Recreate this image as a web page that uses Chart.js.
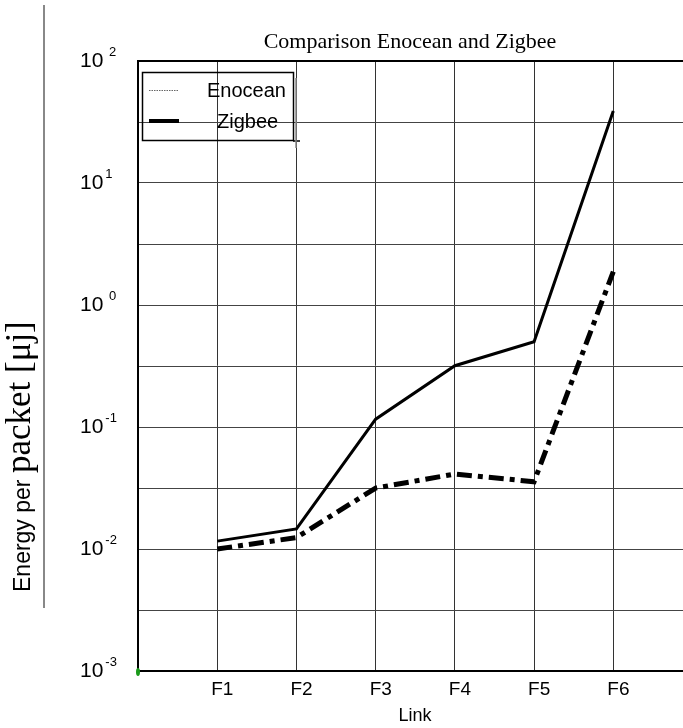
<!DOCTYPE html>
<html>
<head>
<meta charset="utf-8">
<script src="https://cdn.jsdelivr.net/npm/chart.js@4.4.1/dist/chart.umd.min.js"></script>
<style>
html,body{margin:0;padding:0;background:#fff;overflow:hidden;}
#wrap{width:683px;height:728px;}
</style>
</head>
<body>
<div id="wrap"><canvas id="c" width="683" height="728"></canvas></div>
<script>
// ---- data ----
const categories = ['F1', 'F2', 'F3', 'F4', 'F5', 'F6'];
const enoceanValues = [0.0116, 0.0146, 0.116, 0.318, 0.50, 39];
const zigbeeValues = [0.0100, 0.0124, 0.0316, 0.0412, 0.0356, 1.88];
const seriesNames = ['Enocean', 'Zigbee'];
const yTickValues = [0.001, 0.01, 0.1, 1, 10, 100];
const yTickBase = ['10', '10', '10', '10', '10', '10'];
const yTickExponents = ['-3', '-2', '-1', ' 0', '1', ' 2'];
const yGridValues = [0.001, 0.00316, 0.01, 0.0316, 0.1, 0.316, 1, 3.16, 10, 31.6, 100];
const chartTitle = 'Comparison Enocean and Zigbee';
const xTitle = 'Link';
const yTitleA = 'Energy per ';
const yTitleB = 'packet [\u03bcj]';

const toPoints = arr => arr.map((v, i) => ({ x: i + 1, y: v }));

const decor = {
  id: 'decor',
  afterDraw(chart) {
    const ctx = chart.ctx;
    const xs = chart.scales.x, ys = chart.scales.y;
    const area = chart.chartArea;
    ctx.save();
    // top border line
    ctx.strokeStyle = '#000'; ctx.lineWidth = 2;
    ctx.beginPath(); ctx.moveTo(area.left, area.top); ctx.lineTo(area.right, area.top); ctx.stroke();
    // title
    ctx.fillStyle = '#000';
    ctx.font = '22px "Liberation Serif", "Times New Roman", serif';
    ctx.textAlign = 'center'; ctx.textBaseline = 'alphabetic';
    ctx.fillText(chartTitle, 410, 48);
    // y tick labels
    yTickValues.forEach((v, i) => {
      const y = ys.getPixelForValue(v);
      ctx.font = '21px "Liberation Sans", Arial, sans-serif';
      ctx.textAlign = 'left'; ctx.textBaseline = 'alphabetic';
      const bx = 80;
      ctx.fillText(yTickBase[i], bx, y + 6);
      const w = ctx.measureText(yTickBase[i]).width;
      ctx.font = '13px "Liberation Sans", Arial, sans-serif';
      ctx.fillText(yTickExponents[i], bx + w + 2, y - 5);
    });
    // x tick labels
    ctx.font = '19px "Liberation Sans", Arial, sans-serif';
    ctx.textAlign = 'left';
    categories.forEach((c, i) => {
      const x = xs.getPixelForValue(i + 1);
      ctx.fillText(c, x - 6, 695);
    });
    // x title
    ctx.textAlign = 'center';
    ctx.font = '18px "Liberation Sans", Arial, sans-serif';
    ctx.fillText(xTitle, 415, 721);
    // y title (rotated, mixed fonts)
    ctx.save();
    ctx.translate(30, 592);
    ctx.rotate(-Math.PI / 2);
    ctx.textAlign = 'left';
    ctx.font = '23px "Liberation Sans", Arial, sans-serif';
    ctx.fillText(yTitleA, 0, 0);
    const wa = ctx.measureText(yTitleA).width;
    ctx.font = '35px "Liberation Serif", "Times New Roman", serif';
    ctx.fillText(yTitleB, wa, 0);
    ctx.restore();
    // grey vertical line at left
    ctx.strokeStyle = '#888'; ctx.lineWidth = 2;
    ctx.beginPath(); ctx.moveTo(44, 5); ctx.lineTo(44, 608); ctx.stroke();
    // legend
    ctx.strokeStyle = '#000'; ctx.lineWidth = 1.5;
    ctx.strokeRect(142.5, 72.5, 151, 68);
    ctx.beginPath(); ctx.moveTo(293, 141); ctx.lineTo(300, 141); ctx.stroke();
    ctx.strokeStyle = '#888'; ctx.lineWidth = 1.5;
    ctx.beginPath(); ctx.moveTo(296, 78); ctx.lineTo(296, 148); ctx.stroke();
    // Enocean sample
    ctx.strokeStyle = '#666'; ctx.lineWidth = 1; ctx.setLineDash([1.5, 1]);
    ctx.beginPath(); ctx.moveTo(149, 90.5); ctx.lineTo(179, 90.5); ctx.stroke();
    ctx.setLineDash([]);
    // Zigbee sample
    ctx.strokeStyle = '#000'; ctx.lineWidth = 4;
    ctx.beginPath(); ctx.moveTo(149, 121); ctx.lineTo(179, 121); ctx.stroke();
    ctx.fillStyle = '#000';
    ctx.font = '20px "Liberation Sans", Arial, sans-serif';
    ctx.textAlign = 'left';
    ctx.fillText(seriesNames[0], 207, 97);
    ctx.fillText(seriesNames[1], 217, 128);
    // green dot at origin
    ctx.fillStyle = '#1a9a1a';
    ctx.beginPath(); ctx.ellipse(area.left, area.bottom + 1, 2, 4, 0, 0, Math.PI * 2); ctx.fill();
    ctx.restore();
  }
};

new Chart(document.getElementById('c'), {
  type: 'line',
  data: {
    datasets: [
      { label: seriesNames[0], data: toPoints(enoceanValues), borderColor: '#000', borderWidth: 3,
        pointRadius: 0, tension: 0, fill: false },
      { label: seriesNames[1], data: toPoints(zigbeeValues), borderColor: '#000', borderWidth: 5,
        borderDash: [15, 6, 5, 6], pointRadius: 0, tension: 0, fill: false }
    ]
  },
  options: {
    responsive: false,
    devicePixelRatio: 1,
    animation: false,
    layout: { padding: { left: 138, top: 61, right: 0, bottom: 57 } },
    plugins: { legend: { display: false }, title: { display: false }, tooltip: { enabled: false } },
    scales: {
      x: {
        type: 'linear', min: 0, max: 6.88,
        afterBuildTicks: s => { s.ticks = [0, 1, 2, 3, 4, 5, 6].map(v => ({ value: v })); },
        ticks: { display: false },
        grid: { drawTicks: false, color: ctx => ctx.index === 0 ? '#000' : '#333', lineWidth: 1 },
        border: { display: true, color: '#000', width: 2 }
      },
      y: {
        type: 'logarithmic', min: 0.001, max: 100,
        afterBuildTicks: s => { s.ticks = yGridValues.map(v => ({ value: v })); },
        ticks: { display: false },
        grid: { drawTicks: false, color: '#444', lineWidth: 1 },
        border: { display: true, color: '#000', width: 2 }
      }
    }
  },
  plugins: [decor]
});
</script>
</body>
</html>
